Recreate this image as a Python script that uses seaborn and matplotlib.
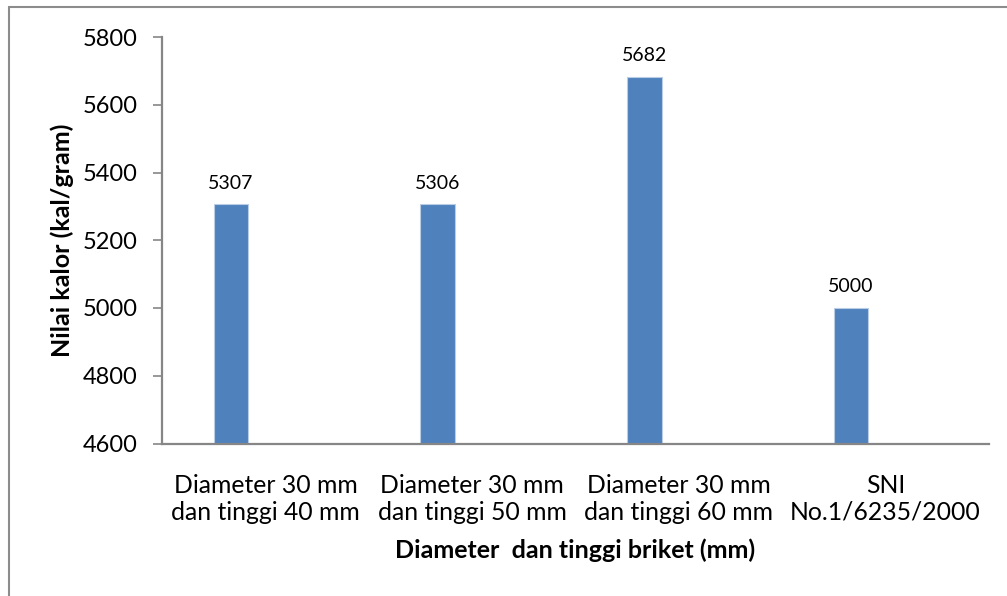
import matplotlib
matplotlib.use("Agg")
import matplotlib.pyplot as plt
import seaborn as sns
import pandas as pd
from matplotlib.lines import Line2D

# Calorific value of briquettes by size, compared with the SNI standard
categories = [
    "Diameter 30 mm\ndan tinggi 40 mm",
    "Diameter 30 mm\ndan tinggi 50 mm",
    "Diameter 30 mm\ndan tinggi 60 mm",
    "SNI\nNo.1/6235/2000",
]
nilai_kalor = [5307, 5306, 5682, 5000]
series_order = ["Nilai kalor", "Seri 2", "Seri 3"]  # clustered layout, only first series has data
y_ticks = [4600, 4800, 5000, 5200, 5400, 5600, 5800]

sns.set_theme(style="white")
plt.rcParams["font.family"] = ["Lato", "DejaVu Sans"]

df = pd.DataFrame({
    "kategori": categories,
    "nilai": nilai_kalor,
    "seri": [series_order[0]] * len(categories),
})

fig = plt.figure(figsize=(10.07, 5.96), dpi=100)
ax = fig.add_axes([162 / 1007, 1 - 443.5 / 596, (989 - 162) / 1007, (443.5 - 37) / 596])

sns.barplot(
    data=df, x="kategori", y="nilai", hue="seri", hue_order=series_order,
    order=categories, palette=["#4F81BD", "#C0504D", "#9BBB59"], saturation=1,
    width=0.5, dodge=True, legend=False, ax=ax,
    edgecolor="#B9CDE5", linewidth=0.8,
)

for cont in ax.containers:
    ax.bar_label(cont, labels=[f"{v:.0f}" for v in cont.datavalues],
                 padding=9, fontsize=14, color="black")

ax.set_ylim(y_ticks[0], y_ticks[-1])
ax.set_yticks(y_ticks)
ax.set_xlim(-0.5, len(categories) - 0.5)

axis_gray = "#868686"
for side in ["top", "right"]:
    ax.spines[side].set_visible(False)
for side in ["left", "bottom"]:
    ax.spines[side].set_color(axis_gray)
    ax.spines[side].set_linewidth(1.6)

ax.tick_params(axis="y", which="major", left=True, length=6.5, width=1.2,
               color=axis_gray, pad=11, labelsize=17, labelcolor="black")
ax.tick_params(axis="x", which="major", bottom=False, pad=16,
               labelsize=17.8, labelcolor="black")
for lbl in ax.get_xticklabels():
    lbl.set_linespacing(1.2)

ax.set_xlabel("Diameter  dan tinggi briket (mm)", fontsize=18, fontweight="bold",
              color="black")
ax.set_ylabel("Nilai kalor (kal/gram)", fontsize=18, fontweight="bold", color="black")
ax.xaxis.set_label_coords(0.5, (443.5 - 550) / (443.5 - 37), transform=ax.transAxes)
ax.xaxis.label.set_va("center")
ax.yaxis.set_label_coords((62 - 162) / (989 - 162), 0.5, transform=ax.transAxes)
ax.yaxis.label.set_va("center")

# chart area border
frame_kw = dict(color="#8C8C8C", linewidth=1.5, transform=fig.transFigure)
fig.add_artist(Line2D([8.5 / 1007, 8.5 / 1007], [1 - 6.5 / 596, -0.05], **frame_kw))
fig.add_artist(Line2D([8.5 / 1007, 1.05], [1 - 6.5 / 596, 1 - 6.5 / 596], **frame_kw))

fig.savefig("out.png", dpi=100)
